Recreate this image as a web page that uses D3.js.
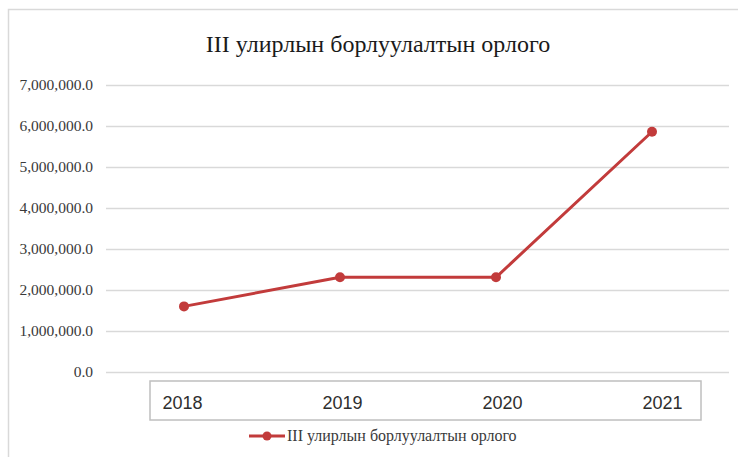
<!DOCTYPE html>
<html>
<head>
<meta charset="utf-8">
<script src="https://cdn.jsdelivr.net/npm/d3@7"></script>
<style>
  body { margin: 0; background: #fff; }
  svg { display: block; }
</style>
</head>
<body>
<svg></svg>
<script>
// data
const years = ["2018", "2019", "2020", "2021"];
const revenue = [1600000, 2310000, 2310000, 5860000];
const yTicks = [0, 1000000, 2000000, 3000000, 4000000, 5000000, 6000000, 7000000];
const seriesName = "III улирлын борлуулалтын орлого";
const titleText = "III улирлын борлуулалтын орлого";

const width = 738;
const height = 457;
const lineColor = "#c23b3b";

const svg = d3.select("svg").attr("width", width).attr("height", height);

// outer chart frame (only top and left are visible in the crop)
svg.append("path")
    .attr("d", "M8.5,457 V9.5 H738")
    .attr("fill", "none")
    .attr("stroke", "#d9d9d9")
    .attr("stroke-width", 1.5);

// scales
const yScale = d3.scaleLinear().domain([0, 7000000]).range([372, 85]);
const xScale = d3.scalePoint().domain(years).range([184, 652]);
const xLabelScale = d3.scalePoint().domain(years).range([182, 662]);

// y axis with gridlines
const yAxis = d3.axisLeft(yScale)
    .tickValues(yTicks)
    .tickFormat(d3.format(",.1f"))
    .tickSize(-(729 - 106))
    .tickPadding(13);

const yG = svg.append("g")
    .attr("id", "y-axis")
    .attr("transform", "translate(106,0)")
    .call(yAxis);
yG.select(".domain").remove();
yG.selectAll(".tick line").attr("stroke", "#d9d9d9").attr("stroke-width", 1.5);
yG.selectAll(".tick text")
    .attr("fill", "#3a3a3a")
    .style("font-family", "'Liberation Serif', 'DejaVu Serif', serif")
    .style("font-size", "15.5px");

// category box under the plot
svg.append("rect")
    .attr("x", 150).attr("y", 381)
    .attr("width", 701 - 150).attr("height", 420 - 381)
    .attr("fill", "#fff")
    .attr("stroke", "#bfbfbf")
    .attr("stroke-width", 1.5);

const xAxis = d3.axisBottom(xLabelScale).tickSize(0).tickPadding(0);
const xG = svg.append("g")
    .attr("id", "x-axis")
    .attr("transform", "translate(0,396)")
    .call(xAxis);
xG.select(".domain").remove();
xG.selectAll(".tick text")
    .attr("fill", "#2e2e2e")
    .style("font-family", "'Liberation Sans', Arial, sans-serif")
    .style("font-size", "18px");

// line and markers
const points = years.map((y, i) => ({ year: y, value: revenue[i] }));
const line = d3.line()
    .x(d => xScale(d.year))
    .y(d => yScale(d.value));

svg.append("path")
    .datum(points)
    .attr("d", line)
    .attr("fill", "none")
    .attr("stroke", lineColor)
    .attr("stroke-width", 3)
    .attr("stroke-linejoin", "round");

svg.selectAll("circle.dot")
    .data(points)
    .enter().append("circle")
    .attr("class", "dot")
    .attr("cx", d => xScale(d.year))
    .attr("cy", d => yScale(d.value))
    .attr("r", 5)
    .attr("fill", lineColor);

// title
svg.append("text")
    .attr("x", 378).attr("y", 52)
    .attr("text-anchor", "middle")
    .attr("fill", "#1a1a1a")
    .style("font-family", "'Liberation Serif', 'DejaVu Serif', serif")
    .style("font-size", "24px")
    .text(titleText);

// legend
const legend = svg.append("g").attr("transform", "translate(249,436)");
legend.append("line")
    .attr("x1", 0).attr("x2", 36)
    .attr("stroke", lineColor).attr("stroke-width", 3);
legend.append("circle")
    .attr("cx", 18).attr("r", 4.5)
    .attr("fill", lineColor);
legend.append("text")
    .attr("x", 38).attr("y", 5)
    .attr("fill", "#3a3a3a")
    .style("font-family", "'Liberation Serif', 'DejaVu Serif', serif")
    .style("font-size", "16px")
    .text(seriesName);
</script>
</body>
</html>
